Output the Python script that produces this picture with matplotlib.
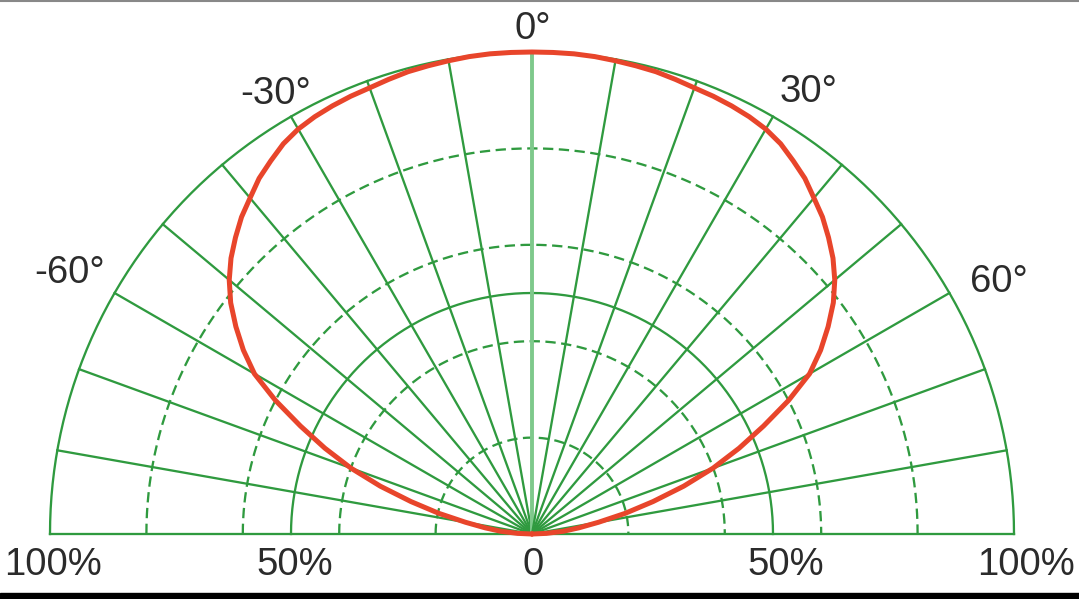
import numpy as np
import matplotlib.pyplot as plt
from matplotlib.lines import Line2D
from matplotlib.patches import Rectangle

# light distribution, relative intensity (%) per angle (deg, 0 = straight up)
angles = [-90, -87.5, -85, -82.5, -80, -77.5, -75, -72.5, -70, -67.5, -65, -62.5, -60, -57.5,
          -55, -52.5, -50, -47.5, -45, -42.5, -40, -37.5, -35, -32.5, -30, -27.5, -25, -22.5,
          -20, -17.5, -15, -12.5, -10, -7.5, -5, -2.5,
          0, 2.5, 5, 7.5, 10, 12.5, 15, 17.5, 20, 22.5, 25, 27.5, 30, 32.5, 35, 37.5, 40, 42.5,
          45, 47.5, 50, 52.5, 55, 57.5, 60, 62.5, 65, 67.5, 70, 72.5, 75, 77.5, 80, 82.5, 85,
          87.5, 90]
intensity = [0, 3, 6.5, 9.8, 14, 19.8, 26, 33, 40, 46.5, 53, 60, 66.5, 71,
             75, 78.8, 82, 84.7, 87, 89.2, 91, 93, 94.5, 96, 97, 97.6, 98, 98.3,
             98.5, 98.9, 99.3, 99.5, 99.7, 99.9, 100, 100,
             100, 100, 100, 99.9, 99.7, 99.5, 99.3, 98.9, 98.5, 98.3, 98, 97.6, 97, 96, 94.5, 93, 91, 89.2,
             87, 84.7, 82, 78.8, 75, 71, 66.5, 60, 53, 46.5, 40, 33, 26, 19.8, 14, 9.8, 6.5,
             3, 0]

# grid
solid_rings = [50, 100]
dashed_rings = [20, 40, 60, 80]
spoke_angles = list(range(-90, 91, 10))

angle_labels = ['0°', '-30°', '30°', '-60°', '60°']
angle_label_pos = [(0.2, 104.8), (-53.1, 91.3), (57.4, 91.7), (-95.9, 54.1), (96.9, 52.3)]
scale_labels = ['100%', '50%', '0', '50%', '100%']
scale_label_x = [-99.4, -49.2, 0.2, 52.6, 102.5]

green = '#2f9a3f'
red = '#e8452b'
txt = '#2b2b2b'

fig = plt.figure(figsize=(10.79, 5.99), dpi=100)
ax = fig.add_axes([0, 0, 1, 1])
px = 4.82  # pixels per percent
cx, cy = 532, 534
ax.set_xlim(-cx / px, (1079 - cx) / px)
ax.set_ylim(-(599 - cy) / px, cy / px)
ax.axis('off')

lw = 1.65
t = np.radians(np.linspace(-90, 90, 361))
for r in solid_rings:
    ax.plot(r * np.sin(t), r * np.cos(t), color=green, lw=lw)
for r in dashed_rings:
    ax.plot(r * np.sin(t), r * np.cos(t), color=green, lw=lw, ls=(0, (4.5, 2.4)))
for a in spoke_angles:
    ar = np.radians(a)
    if a == 0:
        ax.plot([0, 0], [0, 100], color='#7ec98b', lw=2.8)
    else:
        ax.plot([0, 100 * np.sin(ar)], [0, 100 * np.cos(ar)], color=green, lw=lw)

th = np.radians(angles)
r = np.array(intensity)
ax.plot(r * np.sin(th), r * np.cos(th), color=red, lw=3.6,
        solid_capstyle='round', solid_joinstyle='round', zorder=5)

font = dict(family='Liberation Sans', fontsize=27.5, color=txt)
for s, (x, y) in zip(angle_labels, angle_label_pos):
    ax.text(x, y, s, ha='center', va='center', **font)
for s, x in zip(scale_labels, scale_label_x):
    ax.text(x, -6.4, s, ha='center', va='center', **font)

# frame bits of the original screenshot
fig.add_artist(Line2D([0, 1], [0.999, 0.999], color='#888888', lw=1.5, transform=fig.transFigure))
fig.add_artist(Rectangle((0, 0), 1, 6 / 599, color='black', transform=fig.transFigure))

fig.savefig('out.png', dpi=100)
